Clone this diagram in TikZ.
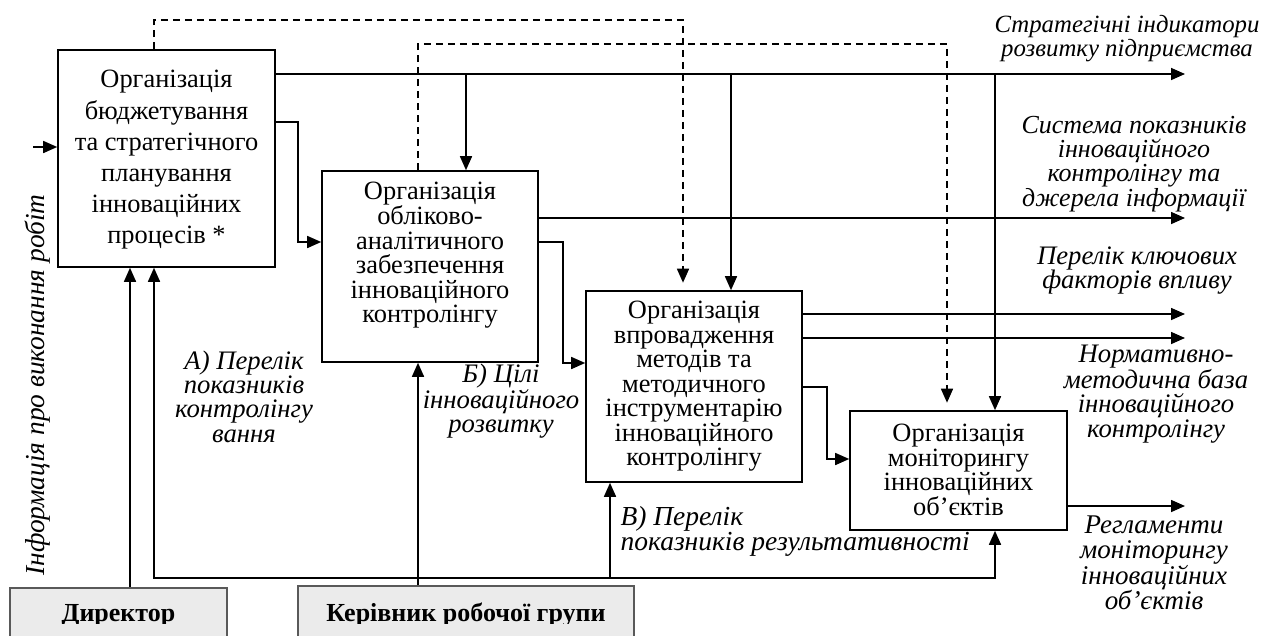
\documentclass[tikz,border=0pt]{standalone}
\usepackage{fontspec}
\setmainfont{Liberation Serif}
\usetikzlibrary{arrows.meta}

\begin{document}
\begin{tikzpicture}[x=1pt,y=-1pt,
  proc/.style={draw, line width=1.6pt, inner sep=0pt},
  ptext/.style={align=center, font=\fontsize{26.4}{24.5}\selectfont},
  lbl/.style={align=center, font=\itshape\fontsize{26.7}{24.3}\selectfont},
  role/.style={draw=black!65, fill=black!8, line width=1.4pt, inner sep=0pt},
  roletext/.style={font=\bfseries\fontsize{26}{26}\selectfont, anchor=base},
  flow/.style={line width=1.6pt, -{Triangle[length=14pt,width=12pt]}},
  ctl/.style={flow, dash pattern=on 7pt off 5pt, shorten >=7.5pt}
]
\useasboundingbox (0,0) rectangle (1287,635);
\clip (0,0) rectangle (1287,635);

% process blocks
\node[proc, minimum width=217pt, minimum height=217pt] (b1) at (166.5,158.5) {};
\node[ptext, font=\fontsize{26.4}{31.2}\selectfont] (t1) at (166.5,160)
  {Організація\\бюджетування\\та стратегічного\\планування\\інноваційних\\процесів *};
\node[proc, minimum width=216pt, minimum height=191pt] (b2) at (430,266.5) {};
\node[ptext] (t2) at (430,255)
  {Організація\\обліково-\\аналітичного\\забезпечення\\інноваційного\\контролінгу};
\node[proc, minimum width=216pt, minimum height=191pt] (b3) at (694,386.5) {};
\node[ptext] (t3) at (694,386.5)
  {Організація\\впровадження\\методів та\\методичного\\інструментарію\\інноваційного\\контролінгу};
\node[proc, minimum width=217pt, minimum height=119pt] (b4) at (958.5,470.5) {};
\node[ptext] (t4) at (958.5,470)
  {Організація\\моніторингу\\інноваційних\\об’єктів};

% responsible persons
\node[role, minimum width=217pt, minimum height=92pt] (dir) at (118.5,634) {};
\node[role, minimum width=336pt, minimum height=94pt] (ker) at (466,633) {};
\begin{scope}
  \clip (0,0) rectangle (1287,623.5);
  \node[roletext] (dirt) at (118.5,621) {Директор};
  \node[roletext] (kert) at (466,621) {Керівник робочої групи};
\end{scope}

% input
\coordinate (in1) at (33,147);
\draw[flow] (in1) -- (in1 -| b1.west);

% main output line of block 1 with its branches
\coordinate (o1) at (1185,74);
\draw[flow] (b1.east |- o1) -- (o1);
\coordinate (j1) at (466,74);
\coordinate (j2) at (731,74);
\coordinate (j3) at (995,74);
\draw[flow] (j1) -- (j1 |- b2.north);
\draw[flow] (j2) -- (j2 |- b3.north);
\draw[flow] (j3) -- (j3 |- b4.north);

% block 1 -> block 2
\draw[flow] (b1.east |- 0,122) -- (298,122) -- (298,242) -- (b2.west |- 0,242);

% block 2 outputs
\draw[flow] (b2.east |- 0,218) -- (1185,218);
\draw[flow] (b2.east |- 0,242) -- (563,242) -- (563,363) -- (b3.west |- 0,363);

% block 3 outputs
\draw[flow] (b3.east |- 0,314) -- (1185,314);
\draw[flow] (b3.east |- 0,338) -- (1185,338);
\draw[flow] (b3.east |- 0,387) -- (827,387) -- (827,459) -- (b4.west |- 0,459);

% block 4 output
\draw[flow] (b4.east |- 0,506) -- (1185,506);

% feedback (dashed)
\draw[ctl] (b1.north -| 154,0) -- (154,20) -- (683,20) -- (b3.north -| 683,0);
\draw[ctl] (b2.north -| 418,0) -- (418,44) -- (947,44) -- (b4.north -| 947,0);

% control from the persons
\draw[flow] (dir.north -| 130,0) -- (b1.south -| 130,0);
\draw[flow] (ker.north -| 418,0) -- (b2.south -| 418,0);
\coordinate (bus) at (418,578);
\draw[flow] (bus) -- (154,578) -- (b1.south -| 154,0);
\draw[flow] (bus) -- (995,578) -- (b4.south -| 995,0);
\draw[flow] (610,578) -- (b3.south -| 610,0);

% labels
\node[lbl, font=\itshape\fontsize{24.8}{24.3}\selectfont] (l1) at (1127,38.5) {Стратегічні індикатори\\розвитку підприємства};
\node[lbl, font=\itshape\fontsize{26}{24.3}\selectfont] (l2) at (1134,164) {Система показників\\інноваційного\\контролінгу та\\джерела інформації};
\node[lbl] (l3) at (1137,270.5) {Перелік ключових\\факторів впливу};
\node[lbl] (l4) at (1156,394) {Нормативно-\\методична база\\інноваційного\\контролінгу};
\node[lbl, font=\itshape\fontsize{27}{24.5}\selectfont] (l5) at (1154,563) {Регламенти\\моніторингу\\інноваційних\\об’єктів};
\node[lbl] (la) at (244,396.5) {А) Перелік\\показників\\контролінгу\\вання};
\node[lbl] (lb) at (501,401.5) {Б) Цілі\\інноваційного\\розвитку};
\node[lbl, font=\itshape\fontsize{27.5}{23.5}\selectfont, align=left, anchor=west] (lc) at (617,531.5) {В) Перелік\\показників результативності};
\node[lbl, font=\itshape\fontsize{27.4}{24}\selectfont, rotate=90] (side) at (38,385) {Інформація про виконання робіт};
\end{tikzpicture}
\end{document}
